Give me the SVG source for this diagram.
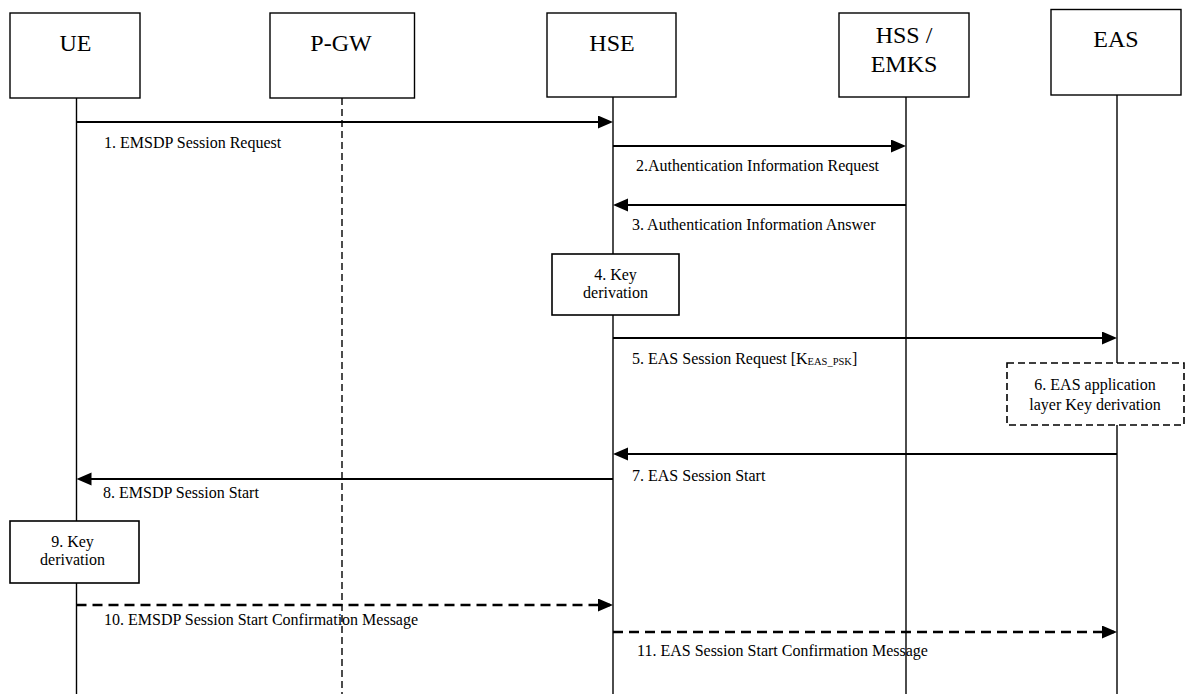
<svg xmlns="http://www.w3.org/2000/svg" width="1186" height="694" viewBox="0 0 1186 694">
<style>
text { font-family: "Liberation Serif", "Times New Roman", serif; fill: #000; }
.node { fill: #fff; stroke: #000; stroke-width: 1.4; }
.name { font-size: 24px; text-anchor: middle; }
.life { stroke: #000; stroke-width: 1.4; fill: none; }
.lifed { stroke: #000; stroke-width: 1.4; fill: none; stroke-dasharray: 7 4; }
.msg { stroke: #000; stroke-width: 2.2; fill: none; marker-end: url(#ah); }
.msgd { stroke: #000; stroke-width: 2.4; fill: none; stroke-dasharray: 10 6; marker-end: url(#ah); }
.lbl { font-size: 16px; }
.proc { fill: #fff; stroke: #000; stroke-width: 1.6; }
.procd { fill: #fff; stroke: #000; stroke-width: 1.6; stroke-dasharray: 7 4; }
.ptxt { font-size: 16px; text-anchor: middle; }
</style>
<defs>
<marker id="ah" markerUnits="userSpaceOnUse" markerWidth="16" markerHeight="14" refX="12" refY="6.5" orient="auto">
<path d="M0,0 L15,6.5 L0,13 z" fill="#000" stroke="none"/>
</marker>
</defs>
<rect width="1186" height="694" fill="#fff"/>

<g id="lifelines">
<line class="life" x1="76.5" y1="98" x2="76.5" y2="694"/>
<line class="lifed" x1="342" y1="98" x2="342" y2="694"/>
<line class="life" x1="613" y1="97" x2="613" y2="694"/>
<line class="life" x1="906" y1="97" x2="906" y2="694"/>
<line class="life" x1="1117" y1="95" x2="1117" y2="694"/>
</g>

<g id="node-ue">
<rect class="node" x="10" y="13" width="130" height="85"/>
<text class="name" x="75.5" y="51">UE</text>
</g>
<g id="node-pgw">
<rect class="node" x="270" y="13" width="144.5" height="85"/>
<text class="name" x="341" y="51">P-GW</text>
</g>
<g id="node-hse">
<rect class="node" x="547" y="13" width="129" height="84"/>
<text class="name" x="612" y="51">HSE</text>
</g>
<g id="node-hss">
<rect class="node" x="839" y="13" width="130" height="84"/>
<text class="name" x="904" y="43">HSS /</text>
<text class="name" x="904" y="72">EMKS</text>
</g>
<g id="node-eas">
<rect class="node" x="1051" y="9.5" width="130" height="85.5"/>
<text class="name" x="1116" y="47">EAS</text>
</g>

<g id="connectors">
<line class="msg" x1="76.5" y1="122" x2="610" y2="122"/>
<line class="msg" x1="613" y1="146" x2="903" y2="146"/>
<line class="msg" x1="906" y1="205" x2="616" y2="205"/>
<line class="msg" x1="613" y1="338" x2="1114" y2="338"/>
<line class="msg" x1="1117" y1="454" x2="616" y2="454"/>
<line class="msg" x1="613" y1="479" x2="79.5" y2="479"/>
<line class="msgd" x1="76.5" y1="605" x2="610" y2="605"/>
<line class="msgd" x1="613" y1="632" x2="1114" y2="632"/>
</g>

<g id="labels">
<text class="lbl" x="104" y="148">1. EMSDP Session Request</text>
<text class="lbl" x="636" y="171">2.Authentication Information Request</text>
<text class="lbl" x="632" y="230">3. Authentication Information Answer</text>
<text class="lbl" x="632" y="364">5. EAS Session Request [K<tspan font-size="10.5" dy="1">EAS_PSK</tspan><tspan dy="-1">]</tspan></text>
<text class="lbl" x="632" y="481">7. EAS Session Start</text>
<text class="lbl" x="103" y="498">8. EMSDP Session Start</text>
<text class="lbl" x="104" y="625">10. EMSDP Session Start Confirmation Message</text>
<text class="lbl" x="637" y="656">11. EAS Session Start Confirmation Message</text>
</g>

<g id="step4">
<rect class="proc" x="552" y="254" width="127" height="61"/>
<text class="ptxt" x="615.5" y="280">4. Key</text>
<text class="ptxt" x="615.5" y="298">derivation</text>
</g>
<g id="step6">
<rect class="procd" x="1007" y="363" width="177" height="62"/>
<text class="ptxt" x="1095" y="390">6. EAS application</text>
<text class="ptxt" x="1095" y="410">layer Key derivation</text>
</g>
<g id="step9">
<rect class="proc" x="10" y="521" width="129" height="62"/>
<text class="ptxt" x="72.5" y="547">9. Key</text>
<text class="ptxt" x="72.5" y="565">derivation</text>
</g>
</svg>
